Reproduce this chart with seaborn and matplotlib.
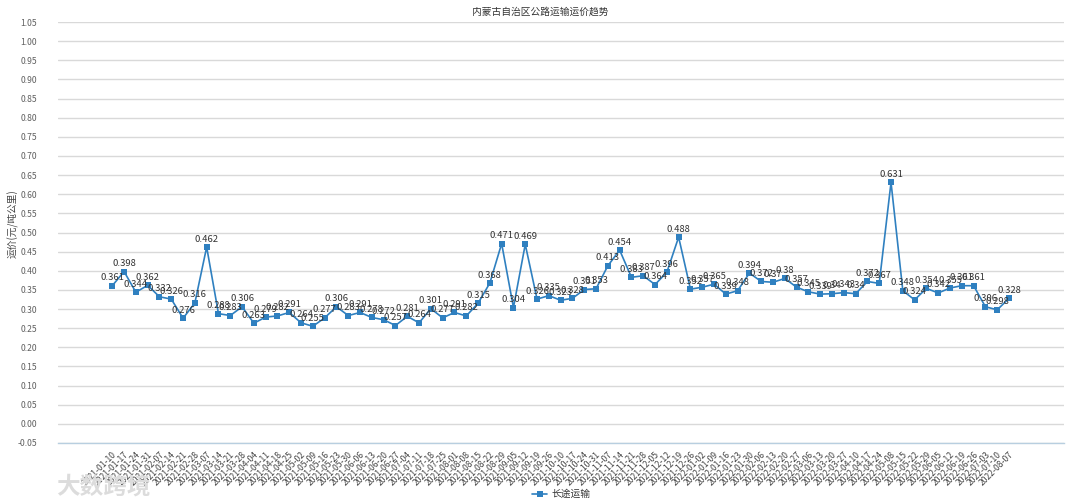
import matplotlib
matplotlib.use("Agg")
import matplotlib.pyplot as plt
import seaborn as sns
import pandas as pd
import numpy as np

dates = [
    "2021-01-10", "2021-01-17", "2021-01-24", "2021-01-31", "2021-02-07", "2021-02-14",
    "2021-02-21", "2021-02-28", "2021-03-07", "2021-03-14", "2021-03-21", "2021-03-28",
    "2021-04-04", "2021-04-11", "2021-04-18", "2021-04-25", "2021-05-02", "2021-05-09",
    "2021-05-16", "2021-05-23", "2021-05-30", "2021-06-06", "2021-06-13", "2021-06-20",
    "2021-06-27", "2021-07-04", "2021-07-11", "2021-07-18", "2021-07-25", "2021-08-01",
    "2021-08-08", "2021-08-15", "2021-08-22", "2021-08-29", "2021-09-05", "2021-09-12",
    "2021-09-19", "2021-09-26", "2021-10-10", "2021-10-17", "2021-10-24", "2021-10-31",
    "2021-11-07", "2021-11-14", "2021-11-21", "2021-11-28", "2021-12-05", "2021-12-12",
    "2021-12-19", "2021-12-26", "2022-01-02", "2022-01-09", "2022-01-16", "2022-01-23",
    "2022-01-30", "2022-02-06", "2022-02-13", "2022-02-20", "2022-02-27", "2022-03-06",
    "2022-03-13", "2022-03-20", "2022-03-27", "2022-04-10", "2022-04-17", "2022-04-24",
    "2022-05-08", "2022-05-15", "2022-05-22", "2022-05-29", "2022-06-05", "2022-06-12",
    "2022-06-19", "2022-06-26", "2022-07-03", "2022-07-10", "2022-08-07",
]

long_haul = [
    0.361, 0.398, 0.344, 0.362, 0.332, 0.326, 0.276, 0.316, 0.462, 0.288,
    0.283, 0.306, 0.263, 0.279, 0.282, 0.291, 0.264, 0.255, 0.277, 0.306,
    0.283, 0.291, 0.278, 0.272, 0.257, 0.281, 0.264, 0.301, 0.277, 0.291,
    0.282, 0.315, 0.368, 0.471, 0.304, 0.469, 0.326, 0.335, 0.323, 0.328,
    0.351, 0.353, 0.413, 0.454, 0.383, 0.387, 0.364, 0.396, 0.488, 0.352,
    0.357, 0.365, 0.339, 0.348, 0.394, 0.372, 0.370, 0.380, 0.357, 0.345,
    0.339, 0.340, 0.343, 0.340, 0.372, 0.367, 0.631, 0.348, 0.324, 0.354,
    0.342, 0.355, 0.361, 0.361, 0.306, 0.298, 0.328,
]

title = "内蒙古自治区公路运输运价趋势"
series_name = "长途运输"
y_label = "运价(元/吨公里)"

sns.set_theme(style="white")
plt.rcParams["font.family"] = ["Noto Sans CJK SC", "DejaVu Sans"]
plt.rcParams["axes.unicode_minus"] = False

df = pd.DataFrame({"idx": np.arange(len(dates)), "date": dates, "value": long_haul,
                   "series": series_name})

fig = plt.figure(figsize=(10.8, 5.04), dpi=100)
ax = fig.add_axes([58 / 1080, 61 / 504, (1064 - 58) / 1080, (443 - 22) / 504])

color = "#2f80c0"
sns.lineplot(data=df, x="idx", y="value", hue="series", palette=[color],
             marker="s", markersize=3.8, markeredgewidth=0, linewidth=1.2,
             ax=ax, legend=True)

for i, v in zip(df["idx"], df["value"]):
    ax.annotate(f"{v:g}", (i, v), xytext=(0, 2.5), textcoords="offset points",
                ha="center", va="bottom", fontsize=6.8, color="#333333")

ax.set_xlim(-4.6, 80.66)
ax.set_ylim(-0.05, 1.05)
yt = np.round(np.arange(-0.05, 1.0501, 0.05), 2)
ax.set_yticks(yt)
ax.set_yticklabels([f"{t:.2f}" for t in yt], fontsize=6.2, color="#606060")
ax.tick_params(axis="y", length=0, pad=15)
ax.set_xticks(df["idx"])
ax.set_xticklabels(dates, rotation=45, ha="right", rotation_mode="anchor",
                   fontsize=6.2, color="#444444")
ax.tick_params(axis="x", length=3, width=0.6, color="#b8cfe0", pad=2, direction="out")
ax.grid(axis="y", color="#d9d9d9", linewidth=1.0)
ax.set_axisbelow(True)
for s in ["top", "right", "left"]:
    ax.spines[s].set_visible(False)
ax.spines["bottom"].set_color("#b8cfe0")
ax.spines["bottom"].set_linewidth(1.0)
ax.set_xlabel("")
ax.set_ylabel(y_label, fontsize=7, color="#444444", labelpad=4)
ax.yaxis.set_label_coords(-0.039, 0.52)

fig.text(0.5, 0.987, title, ha="center", va="top", fontsize=7, color="#333333")

leg = ax.legend(loc="center", bbox_to_anchor=(0.5, (504 - 494 - 61) / 421), frameon=False,
                fontsize=7, handlelength=1.6, handletextpad=0.4)
for t in leg.get_texts():
    t.set_color("#333333")

fig.text(0.052, 0.035, "大数跨境", ha="left", va="center", fontsize=17,
         color="#dcdcdc", fontweight="bold")

fig.savefig("out.png", dpi=100)
